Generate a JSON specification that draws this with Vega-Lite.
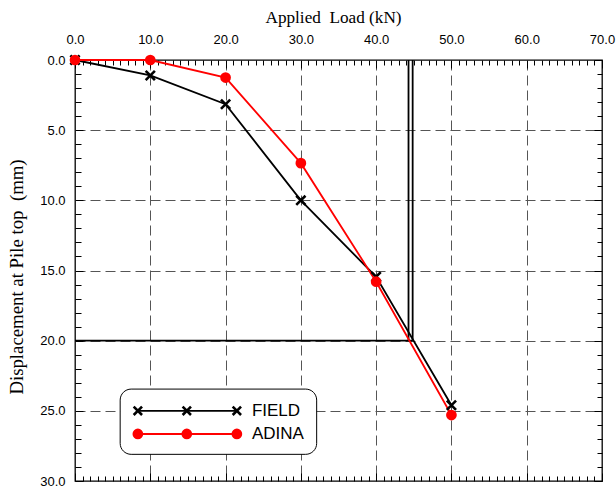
{
  "$schema": "https://vega.github.io/schema/vega-lite/v6.json",
  "width": 527,
  "height": 421,
  "autosize": {"type": "none"},
  "padding": {"left": 75, "top": 60, "right": 14, "bottom": 8},
  "background": "white",
  "config": {
    "view": {"stroke": "black", "strokeWidth": 1.3},
    "axis": {"domain": false, "tickColor": "black", "labelColor": "black", "titleColor": "black"}
  },
  "datasets": {
    "curves": [
      {"series": "FIELD", "load": 0, "disp": 0},
      {"series": "FIELD", "load": 10, "disp": 1.1},
      {"series": "FIELD", "load": 20, "disp": 3.15},
      {"series": "FIELD", "load": 30, "disp": 10.0},
      {"series": "FIELD", "load": 40, "disp": 15.45},
      {"series": "FIELD", "load": 50, "disp": 24.6},
      {"series": "ADINA", "load": 0, "disp": 0},
      {"series": "ADINA", "load": 10, "disp": 0},
      {"series": "ADINA", "load": 20, "disp": 1.25},
      {"series": "ADINA", "load": 30, "disp": 7.35},
      {"series": "ADINA", "load": 40, "disp": 15.8},
      {"series": "ADINA", "load": 50, "disp": 25.3}
    ],
    "ultimate": [
      {"load": 44.3, "load2": 44.3, "disp": 0, "disp2": 20},
      {"load": 44.85, "load2": 44.85, "disp": 0, "disp2": 20},
      {"load": 0, "load2": 44.85, "disp": 20, "disp2": 20}
    ],
    "keybox": [
      {"load": 6.0, "load2": 32.1, "disp": 23.45, "disp2": 28.1}
    ],
    "keymarks": [
      {"series": "FIELD", "load": 8.35, "disp": 25.0},
      {"series": "FIELD", "load": 14.85, "disp": 25.0},
      {"series": "FIELD", "load": 21.5, "disp": 25.0},
      {"series": "ADINA", "load": 8.35, "disp": 26.65},
      {"series": "ADINA", "load": 14.85, "disp": 26.65},
      {"series": "ADINA", "load": 21.5, "disp": 26.65}
    ],
    "keytext": [
      {"series": "FIELD", "load": 23.5, "disp": 25.0},
      {"series": "ADINA", "load": 23.5, "disp": 26.65}
    ]
  },
  "layer": [
    {
      "data": {"name": "curves"},
      "mark": {"type": "line", "opacity": 0},
      "encoding": {
        "x": {
          "field": "load", "type": "quantitative",
          "scale": {"domain": [0, 70], "nice": false, "zero": false},
          "axis": {
            "orient": "top",
            "title": "Applied\u00a0 Load (kN)",
            "titleFont": "Liberation Serif", "titleFontSize": 17.2, "titleFontWeight": "normal",
            "titleX": 258, "titleY": -38, "titleBaseline": "alphabetic", "titleAlign": "center",
            "values": [0,1,2,3,4,5,6,7,8,9,10,11,12,13,14,15,16,17,18,19,20,21,22,23,24,25,26,27,28,29,30,31,32,33,34,35,36,37,38,39,40,41,42,43,44,45,46,47,48,49,50,51,52,53,54,55,56,57,58,59,60,61,62,63,64,65,66,67,68,69,70],
            "labelExpr": "datum.value % 10 === 0 ? format(datum.value, '.1f') : ''",
            "labelFont": "Liberation Sans", "labelFontSize": 13, "labelPadding": 22,
            "labelOverlap": false, "labelBound": false, "labelFlush": false,
            "tickSize": {"condition": {"test": "datum.value % 10 === 0", "value": -8}, "value": -5},
            "tickWidth": 1,
            "grid": true, "gridColor": "#555", "gridDash": [10, 5], "gridWidth": 1,
            "gridOpacity": {"condition": {"test": "datum.value % 10 === 0 && datum.value > 0 && datum.value < 70", "value": 1}, "value": 0}
          }
        },
        "y": {
          "field": "disp", "type": "quantitative",
          "scale": {"domain": [0, 30], "reverse": true, "nice": false, "zero": false},
          "axis": {
            "orient": "left",
            "title": "Displacement at Pile top\u00a0 (mm)",
            "titleFont": "Liberation Serif", "titleFontSize": 18.8, "titleFontWeight": "normal",
            "titleX": -53, "titleY": 216.5, "titleBaseline": "alphabetic", "titleAlign": "center", "titleAngle": -90,
            "values": [0,1,2,3,4,5,6,7,8,9,10,11,12,13,14,15,16,17,18,19,20,21,22,23,24,25,26,27,28,29,30],
            "labelExpr": "datum.value % 5 === 0 ? format(datum.value, '.1f') : ''",
            "labelFont": "Liberation Sans", "labelFontSize": 13, "labelPadding": 18,
            "labelOverlap": false, "labelBound": false, "labelFlush": false,
            "tickSize": {"condition": {"test": "datum.value % 5 === 0", "value": -8}, "value": -6},
            "tickWidth": 1,
            "grid": true, "gridColor": "#555", "gridDash": [10, 5], "gridWidth": 1,
            "gridOpacity": {"condition": {"test": "datum.value % 5 === 0 && datum.value > 0 && datum.value < 30", "value": 1}, "value": 0}
          }
        }
      }
    },
    {
      "data": {"name": "curves"},
      "mark": {"type": "line", "opacity": 0},
      "encoding": {
        "x": {
          "field": "load", "type": "quantitative",
          "axis": {
            "orient": "bottom", "title": null, "labels": false, "grid": false,
            "values": [0,1,2,3,4,5,6,7,8,9,10,11,12,13,14,15,16,17,18,19,20,21,22,23,24,25,26,27,28,29,30,31,32,33,34,35,36,37,38,39,40,41,42,43,44,45,46,47,48,49,50,51,52,53,54,55,56,57,58,59,60,61,62,63,64,65,66,67,68,69,70],
            "tickSize": {"condition": {"test": "datum.value % 10 === 0", "value": -8}, "value": -5},
            "tickWidth": 1
          }
        },
        "y": {
          "field": "disp", "type": "quantitative",
          "axis": {
            "orient": "right", "title": null, "labels": false, "grid": false,
            "values": [0,1,2,3,4,5,6,7,8,9,10,11,12,13,14,15,16,17,18,19,20,21,22,23,24,25,26,27,28,29,30],
            "tickSize": {"condition": {"test": "datum.value % 5 === 0", "value": -8}, "value": -5},
            "tickWidth": 1
          }
        }
      }
    },
    {
      "data": {"name": "ultimate"},
      "mark": {"type": "rule", "color": "black", "strokeWidth": 1.8},
      "encoding": {
        "x": {"field": "load", "type": "quantitative", "axis": null},
        "x2": {"field": "load2"},
        "y": {"field": "disp", "type": "quantitative", "axis": null},
        "y2": {"field": "disp2"}
      }
    },
    {
      "data": {"name": "curves"},
      "mark": {"type": "line", "strokeWidth": 1.8},
      "encoding": {
        "x": {"field": "load", "type": "quantitative", "axis": null},
        "y": {"field": "disp", "type": "quantitative", "axis": null},
        "color": {"field": "series", "type": "nominal", "scale": {"domain": ["FIELD", "ADINA"], "range": ["black", "#ff0000"]}, "legend": null},
        "order": {"field": "load", "type": "quantitative"}
      }
    },
    {
      "data": {"name": "curves"},
      "transform": [{"filter": "datum.series === 'FIELD'"}],
      "mark": {"type": "point", "shape": "M-1,-1L1,1M-1,1L1,-1", "filled": false, "stroke": "black", "strokeWidth": 2.6, "size": 85, "opacity": 1},
      "encoding": {
        "x": {"field": "load", "type": "quantitative", "axis": null},
        "y": {"field": "disp", "type": "quantitative", "axis": null}
      }
    },
    {
      "data": {"name": "curves"},
      "transform": [{"filter": "datum.series === 'ADINA'"}],
      "mark": {"type": "circle", "color": "#ff0000", "size": 115, "opacity": 1},
      "encoding": {
        "x": {"field": "load", "type": "quantitative", "axis": null},
        "y": {"field": "disp", "type": "quantitative", "axis": null}
      }
    },
    {
      "data": {"name": "keybox"},
      "mark": {"type": "rect", "fill": "white", "stroke": "black", "strokeWidth": 1, "cornerRadius": 11},
      "encoding": {
        "x": {"field": "load", "type": "quantitative", "axis": null},
        "x2": {"field": "load2"},
        "y": {"field": "disp", "type": "quantitative", "axis": null},
        "y2": {"field": "disp2"}
      }
    },
    {
      "data": {"name": "keymarks"},
      "mark": {"type": "line", "strokeWidth": 1.8},
      "encoding": {
        "x": {"field": "load", "type": "quantitative", "axis": null},
        "y": {"field": "disp", "type": "quantitative", "axis": null},
        "color": {"field": "series", "type": "nominal", "scale": {"domain": ["FIELD", "ADINA"], "range": ["black", "#ff0000"]}, "legend": null}
      }
    },
    {
      "data": {"name": "keymarks"},
      "transform": [{"filter": "datum.series === 'FIELD'"}],
      "mark": {"type": "point", "shape": "M-1,-1L1,1M-1,1L1,-1", "filled": false, "stroke": "black", "strokeWidth": 2.6, "size": 70, "opacity": 1},
      "encoding": {
        "x": {"field": "load", "type": "quantitative", "axis": null},
        "y": {"field": "disp", "type": "quantitative", "axis": null}
      }
    },
    {
      "data": {"name": "keymarks"},
      "transform": [{"filter": "datum.series === 'ADINA'"}],
      "mark": {"type": "circle", "color": "#ff0000", "size": 115, "opacity": 1},
      "encoding": {
        "x": {"field": "load", "type": "quantitative", "axis": null},
        "y": {"field": "disp", "type": "quantitative", "axis": null}
      }
    },
    {
      "data": {"name": "keytext"},
      "mark": {"type": "text", "align": "left", "baseline": "middle", "font": "Liberation Sans", "fontSize": 17, "color": "black"},
      "encoding": {
        "x": {"field": "load", "type": "quantitative", "axis": null},
        "y": {"field": "disp", "type": "quantitative", "axis": null},
        "text": {"field": "series"}
      }
    }
  ]
}
